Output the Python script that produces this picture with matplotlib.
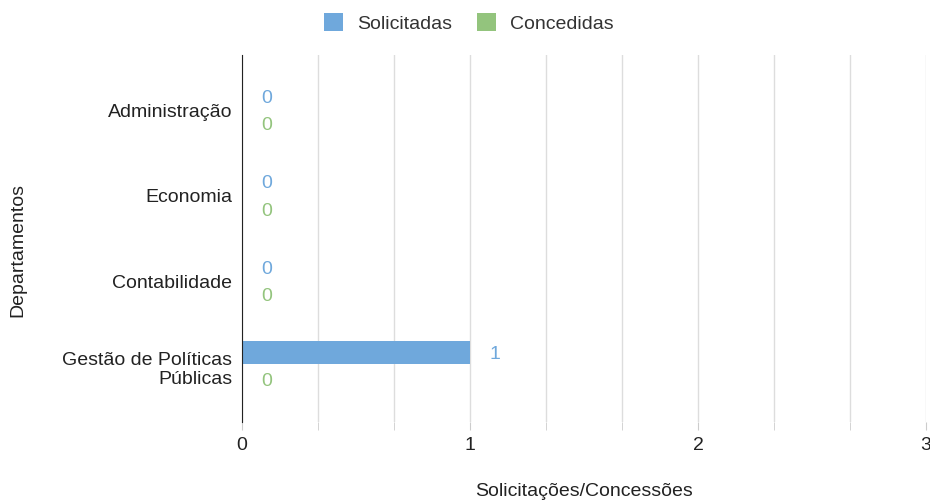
import numpy as np
import matplotlib.pyplot as plt
from matplotlib.ticker import MultipleLocator

plt.rcParams['font.family'] = ['Liberation Sans', 'DejaVu Sans']

departamentos = ["Administração", "Economia", "Contabilidade", "Gestão de Políticas\nPúblicas"]
solicitadas = [0, 0, 0, 1]
concedidas = [0, 0, 0, 0]

blue = '#6fa8dc'
green = '#93c47d'
txt = '#222222'

fig = plt.figure(figsize=(9.3, 5.03), dpi=100)
ax = fig.add_axes([242 / 930, 1 - 422 / 503, (926 - 242) / 930, (422 - 55) / 503])

y = np.arange(len(departamentos))
h = 0.27
off = 0.16
ax.barh(y - off, solicitadas, height=h, color=blue, label='Solicitadas')
ax.barh(y + off, concedidas, height=h, color=green, label='Concedidas')

# data labels
for yi, v in zip(y, solicitadas):
    ax.annotate(str(v), (v, yi - off + 0.02), xytext=(14, 0), textcoords='offset points',
                va='center', ha='left', color=blue, fontsize=14)
for yi, v in zip(y, concedidas):
    ax.annotate(str(v), (v, yi + off + 0.02), xytext=(14, 0), textcoords='offset points',
                va='center', ha='left', color=green, fontsize=14)

ax.set_xlim(0, 3)
ax.set_ylim(3.65, -0.65)
ax.set_yticks(y)
ax.set_yticklabels(departamentos, fontsize=14, color=txt, ha='right')
ax.xaxis.set_major_locator(MultipleLocator(1))
ax.xaxis.set_minor_locator(MultipleLocator(1 / 3))
ax.tick_params(axis='x', which='both', length=6, color='#cccccc', labelsize=14,
               labelcolor=txt, pad=5)
ax.tick_params(axis='y', length=0, pad=7)
ax.grid(axis='x', which='both', color='#dddddd', linewidth=1)
ax.set_axisbelow(True)
for s in ['top', 'right', 'bottom']:
    ax.spines[s].set_visible(False)
ax.spines['left'].set_color(txt)

ax.set_xlabel('Solicitações/Concessões', fontsize=14, color=txt)
ax.set_ylabel('Departamentos', fontsize=14, color=txt)
ax.xaxis.set_label_coords(0.5, -0.165)
ax.yaxis.set_label_coords(-0.315, 0.469)

fig.legend(loc='upper center', bbox_to_anchor=(0.504, 1.008), ncol=2, frameon=False,
           fontsize=14, handlelength=1.0, handleheight=1.0, handletextpad=0.7,
           columnspacing=1.3, labelcolor='#333333')

plt.savefig('out.png', dpi=100)
